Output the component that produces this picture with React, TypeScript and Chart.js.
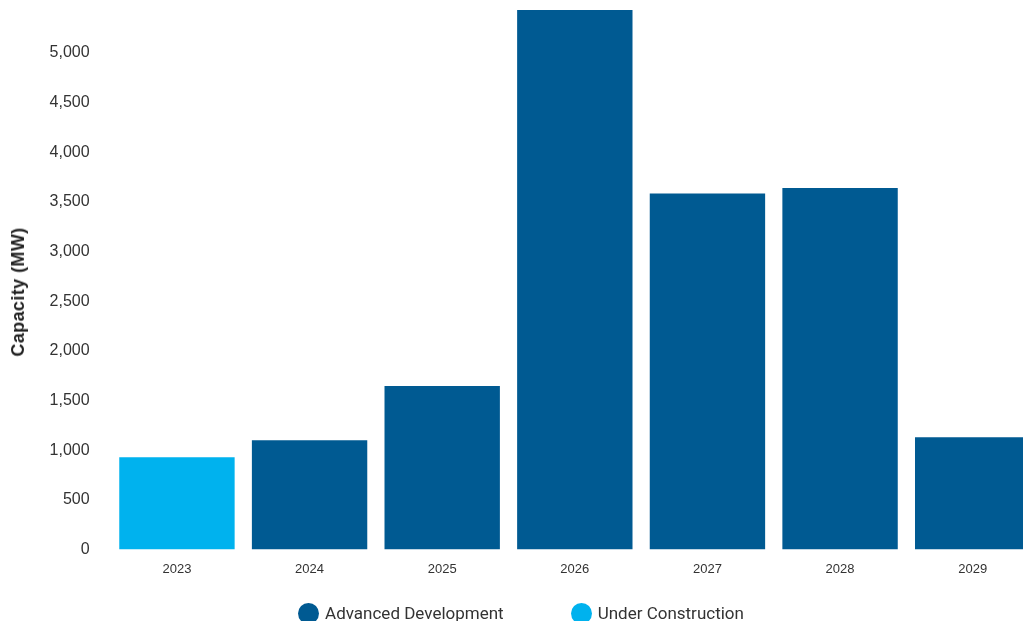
import React, { useEffect, useRef } from "react";
import { Chart, registerables } from "chart.js";

Chart.register(...registerables);

const years = ["2023", "2024", "2025", "2026", "2027", "2028", "2029"];
const advancedDevelopment = [null, 1100, 1645, 5434, 3585, 3640, 1130];
const underConstruction = [928, null, null, null, null, null, null];
const yTicks = [0, 500, 1000, 1500, 2000, 2500, 3000, 3500, 4000, 4500, 5000];
const yMax = 5434;
const yTitle = "Capacity (MW)";

const seriesNames = ["Advanced Development", "Under Construction"];
const seriesColors = ["#005A92", "#00B2EE"];

export default function App() {
  const ref = useRef<HTMLCanvasElement | null>(null);
  useEffect(() => {
    if (!ref.current) return;
    const chart = new Chart(ref.current, {
      type: "bar",
      data: {
        labels: years,
        datasets: [
          {
            label: seriesNames[0],
            data: advancedDevelopment,
            backgroundColor: seriesColors[0],
            categoryPercentage: 1,
            barPercentage: 0.87,
          },
          {
            label: seriesNames[1],
            data: underConstruction,
            backgroundColor: seriesColors[1],
            categoryPercentage: 1,
            barPercentage: 0.87,
          },
        ],
      },
      options: {
        animation: false,
        responsive: false,
        maintainAspectRatio: false,
        layout: { padding: { top: 10, right: 0, left: 7, bottom: 14 } },
        plugins: {
          legend: { display: false },
          tooltip: { enabled: false },
        },
        scales: {
          x: {
            stacked: true,
            grid: { display: false, drawTicks: false },
            border: { display: false },
            ticks: { color: "#333", font: { family: "Liberation Sans", size: 13 }, padding: 12 },
          },
          y: {
            stacked: true,
            min: 0,
            max: yMax,
            grid: { display: false, drawTicks: true, tickLength: 21 },
            border: { display: false },
            afterBuildTicks: (axis: any) => {
              axis.ticks = yTicks.map((v) => ({ value: v }));
            },
            title: {
              display: true,
              text: yTitle,
              color: "rgba(0,0,0,0)",
              font: { family: "Liberation Sans", size: 18, weight: "bold" },
              padding: { top: 0, bottom: 21 },
            },
            ticks: {
              color: "#333",
              padding: 0,
              font: { family: "Liberation Sans", size: 16 },
              callback: (v: any) => Number(v).toLocaleString("en-US"),
            },
          },
        },
      },
    });
    return () => chart.destroy();
  }, []);
  return (
    <div style={{ position: "fixed", left: 0, top: 0, width: 1023, height: 621, overflow: "hidden", background: "#fff" }}>
      <canvas ref={ref} width={1039} height={603} style={{ display: "block" }} />
      <div
        style={{
          position: "absolute",
          left: 18,
          top: 292,
          transform: "translate(-50%, -50%) rotate(-90deg)",
          fontFamily: "Liberation Sans",
          fontWeight: "bold",
          fontSize: 18,
          letterSpacing: 0.4,
          color: "#222",
          whiteSpace: "nowrap",
          lineHeight: "22px",
        }}
      >
        {yTitle}
      </div>
      <div
        style={{
          position: "absolute",
          left: 0,
          top: 602,
          width: 1042,
          height: 22,
          display: "flex",
          justifyContent: "center",
          alignItems: "center",
          gap: 67,
          fontFamily: "Roboto",
          fontSize: 17,
          color: "#333",
          whiteSpace: "nowrap",
        }}
      >
        {seriesNames.map((name, i) => (
          <div key={name} style={{ display: "flex", alignItems: "center", gap: 6 }}>
            <span style={{ width: 21, height: 21, borderRadius: "50%", background: seriesColors[i], display: "inline-block" }} />
            <span>{name}</span>
          </div>
        ))}
      </div>
    </div>
  );
}
